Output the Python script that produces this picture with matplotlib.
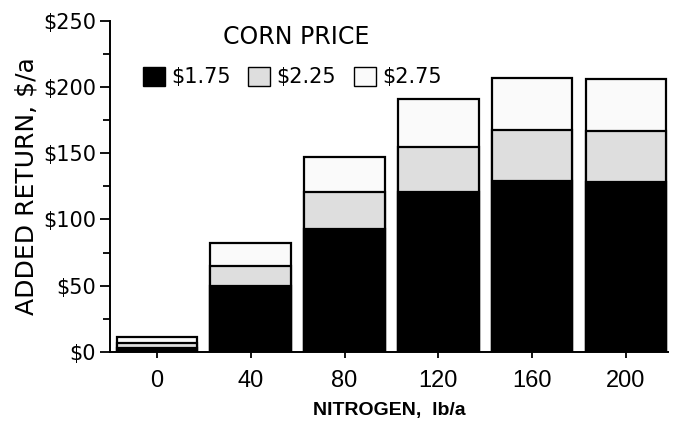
import matplotlib
matplotlib.use("Agg")
import matplotlib.pyplot as plt
from matplotlib.patches import Patch
from matplotlib.ticker import MultipleLocator

# data (cumulative returns, $/a)
nitrogen = ["0", "40", "80", "120", "160", "200"]
return_175 = [3, 50, 93, 121, 129, 128]
return_225 = [7, 65, 121, 155, 168, 167]
return_275 = [11, 82, 147, 191, 207, 206]
price_labels = ["\\$1.75", "\\$2.25", "\\$2.75"]
y_ticks = [0, 50, 100, 150, 200, 250]

plt.rcParams['font.family'] = ['DejaVu Sans']

fig = plt.figure(figsize=(6.79, 4.29), dpi=100)
ax = fig.add_axes([0.162, 0.18, 0.822, 0.771])

x = range(len(nitrogen))
w = 0.86
seg_colors = ["black", "#dedede", "#fafafa"]

# draw tallest first so the lower segments sit on top
ax.bar(x, return_275, width=w, color=seg_colors[2], edgecolor="black", lw=1.6)
ax.bar(x, return_225, width=w, color=seg_colors[1], edgecolor="black", lw=1.6)
ax.bar(x, return_175, width=w, color=seg_colors[0], edgecolor="black", lw=1.6)

ax.set_xlim(-0.5, 5.45)
ax.set_ylim(0, 250)
ax.set_xticks(list(x))
ax.set_xticklabels(nitrogen, fontsize=17, family="Liberation Sans")
ax.set_yticks(y_ticks)
ax.set_yticklabels(["\\$%d" % v for v in y_ticks], fontsize=15)
ax.yaxis.set_minor_locator(MultipleLocator(25))

for s in ["top", "right"]:
    ax.spines[s].set_visible(False)
ax.spines["left"].set_linewidth(1.4)
ax.spines["bottom"].set_linewidth(1.4)
ax.tick_params(axis="y", which="major", length=7, width=1.3, pad=3)
ax.tick_params(axis="y", which="minor", length=5, width=1.3)
ax.tick_params(axis="x", length=4, width=1.3, pad=9)

ax.set_ylabel("ADDED RETURN, \\$/a", fontsize=18, labelpad=3)
ax.set_xlabel("NITROGEN,  lb/a", fontsize=14, fontweight="bold",
              family="Liberation Sans", labelpad=7)

handles = [Patch(facecolor=c, edgecolor="black", lw=1) for c in seg_colors]
ax.legend(handles, price_labels, ncol=3, frameon=False, fontsize=15,
          loc="center left", bbox_to_anchor=(143 / 679, 1 - 77 / 429),
          bbox_transform=fig.transFigure,
          handlelength=1.05, handleheight=1.05, handletextpad=0.3,
          columnspacing=0.85, borderpad=0.0, borderaxespad=0.0)
fig.text(296 / 679, 1 - 37 / 429, "CORN PRICE", fontsize=17,
         ha="center", va="center")

fig.savefig("out.png", dpi=100)
